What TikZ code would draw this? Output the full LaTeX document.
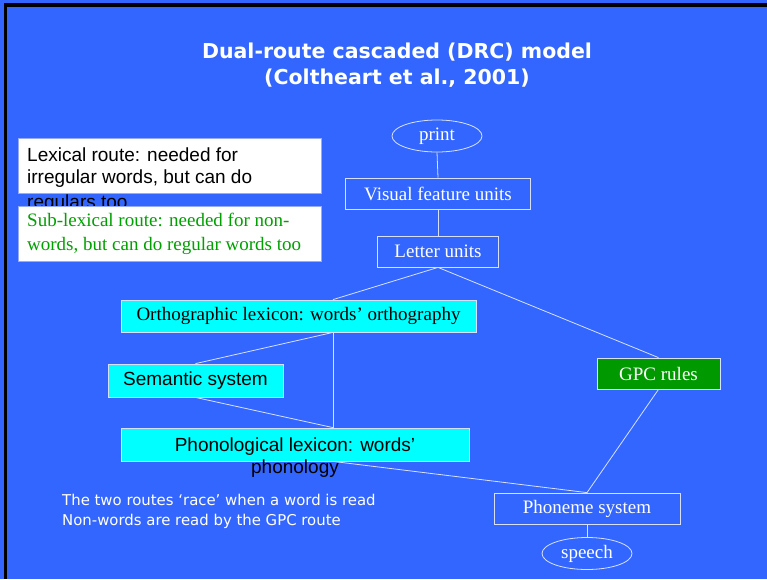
\documentclass[tikz,border=0pt]{standalone}
\usepackage{fontspec}
\setmainfont{Liberation Serif}
\newfontfamily\arialfont{Liberation Sans}
\newfontfamily\verdfont{DejaVu Sans}
\usetikzlibrary{shapes.geometric}
\definecolor{slideblue}{RGB}{51,102,255}
\definecolor{edgecol}{RGB}{215,225,255}
\definecolor{lexcyan}{RGB}{0,255,255}
\definecolor{gpcgreen}{RGB}{0,153,0}
\definecolor{notegreen}{RGB}{0,160,0}
\definecolor{noteedge}{RGB}{150,170,255}
\tikzset{
  unitbox/.style={rectangle, draw=edgecol, line width=0.8pt, inner sep=0pt,
    minimum height=31, text=white, font=\fontsize{19}{22}\selectfont},
  endpoint/.style={ellipse, draw=edgecol, line width=0.8pt, inner sep=0pt,
    minimum width=90, minimum height=32, text=white, font=\fontsize{19}{22}\selectfont},
  lexbox/.style={rectangle, fill=lexcyan, draw=edgecol, line width=0.8pt, inner sep=0pt,
    minimum height=32, text=black, font=\fontsize{19}{22}\selectfont},
  notebox/.style={rectangle, fill=white, draw=noteedge, line width=0.5pt, inner sep=0pt,
    minimum width=303, minimum height=55},
  notetext/.style={anchor=base west, inner sep=0pt, font=\arialfont\fontsize{19}{22}\selectfont},
  subtext/.style={anchor=base west, inner sep=0pt, text=notegreen, font=\fontsize{19}{22}\selectfont},
  link/.style={draw=edgecol, line width=0.8pt},
  titletext/.style={anchor=base, inner sep=0pt, text=white, font=\verdfont\bfseries\fontsize{20.5}{24}\selectfont},
  foottext/.style={anchor=base west, inner sep=0pt, text=white, font=\verdfont\fontsize{14.9}{18}\selectfont}
}
\begin{document}
\begin{tikzpicture}[x=1pt,y=-1pt]
\useasboundingbox (0,0) rectangle (767,579);
% slide background and frame edges
\fill[slideblue] (0,0) rectangle (767,579);
\fill[black] (4,3) rectangle (7,579);
\fill[black] (4,3) rectangle (767,6.5);

% title
\node[titletext] (title1) at (397,58) {Dual-route cascaded (DRC) model};
\node[titletext] (title2) at (397,84) {(Coltheart et al., 2001)};

% route notes (the third lexical line runs under the second note)
\node[notebox] (lexnote) at (169.5,165.5) {};
\node[notetext] (lex1) at (27,161.7) {Lexical route: needed for};
\node[notetext] (lex2) at (27,183.3) {irregular words, but can do};
\node[notetext] (lex3) at (27,208.5) {regulars too};
\node[notebox] (subnote) at (169.5,233.5) {};
\node[subtext] (sub1) at (27,226.7) {Sub-lexical route: needed for non-};
\node[subtext] (sub2) at (27,250) {words, but can do regular words too};

% model units
\node[endpoint] (print) at (437,136) {print};
\node[unitbox, minimum width=185] (vfu) at (438,193.5) {Visual feature units};
\node[unitbox, minimum width=121] (letter) at (438,251.5) {Letter units};
\node[lexbox, minimum width=355] (ortho) at (298.5,316) {Orthographic lexicon: words’ orthography};
\node[lexbox, minimum width=175, minimum height=33, font=\arialfont\fontsize{19}{22}\selectfont] (sem) at (195.5,380.5) {Semantic system};
\node[lexbox, minimum width=348, minimum height=33] (phono) at (295,444.5) {};
\node[anchor=base, inner sep=0pt, font=\arialfont\fontsize{19}{22}\selectfont] (phonoA) at (295,451.7) {Phonological lexicon: words’};
\node[anchor=base, inner sep=0pt, font=\arialfont\fontsize{19}{22}\selectfont] (phonoB) at (295,473.7) {phonology};
\node[unitbox, fill=gpcgreen, minimum width=123] (gpc) at (658.5,373.5) {GPC rules};
\node[unitbox, minimum width=186] (phoneme) at (587,508.5) {Phoneme system};
\node[endpoint] (speech) at (587,553.5) {speech};

% junction column between the lexicons
\coordinate (hub) at (333,0);

% connections
\draw[link] (print.south) -- (vfu.north);
\draw[link] (vfu.south) -- (letter.north);
\draw[link] (letter.south) -- (ortho.north -| hub);
\draw[link] (letter.south) -- (gpc.north);
\draw[link] (ortho.south -| hub) -- (sem.north);
\draw[link] (ortho.south -| hub) -- (phono.north -| hub);
\draw[link] (sem.south) -- (phono.north -| hub);
\draw[link] (phono.south -| hub) -- (phoneme.north);
\draw[link] (gpc.south) -- (phoneme.north);
\draw[link] (phoneme.south) -- (speech.north);

% footnote
\node[foottext] (foot1) at (62,505) {The two routes ‘race’ when a word is read};
\node[foottext] (foot2) at (62,525) {Non-words are read by the GPC route};
\end{tikzpicture}
\end{document}
